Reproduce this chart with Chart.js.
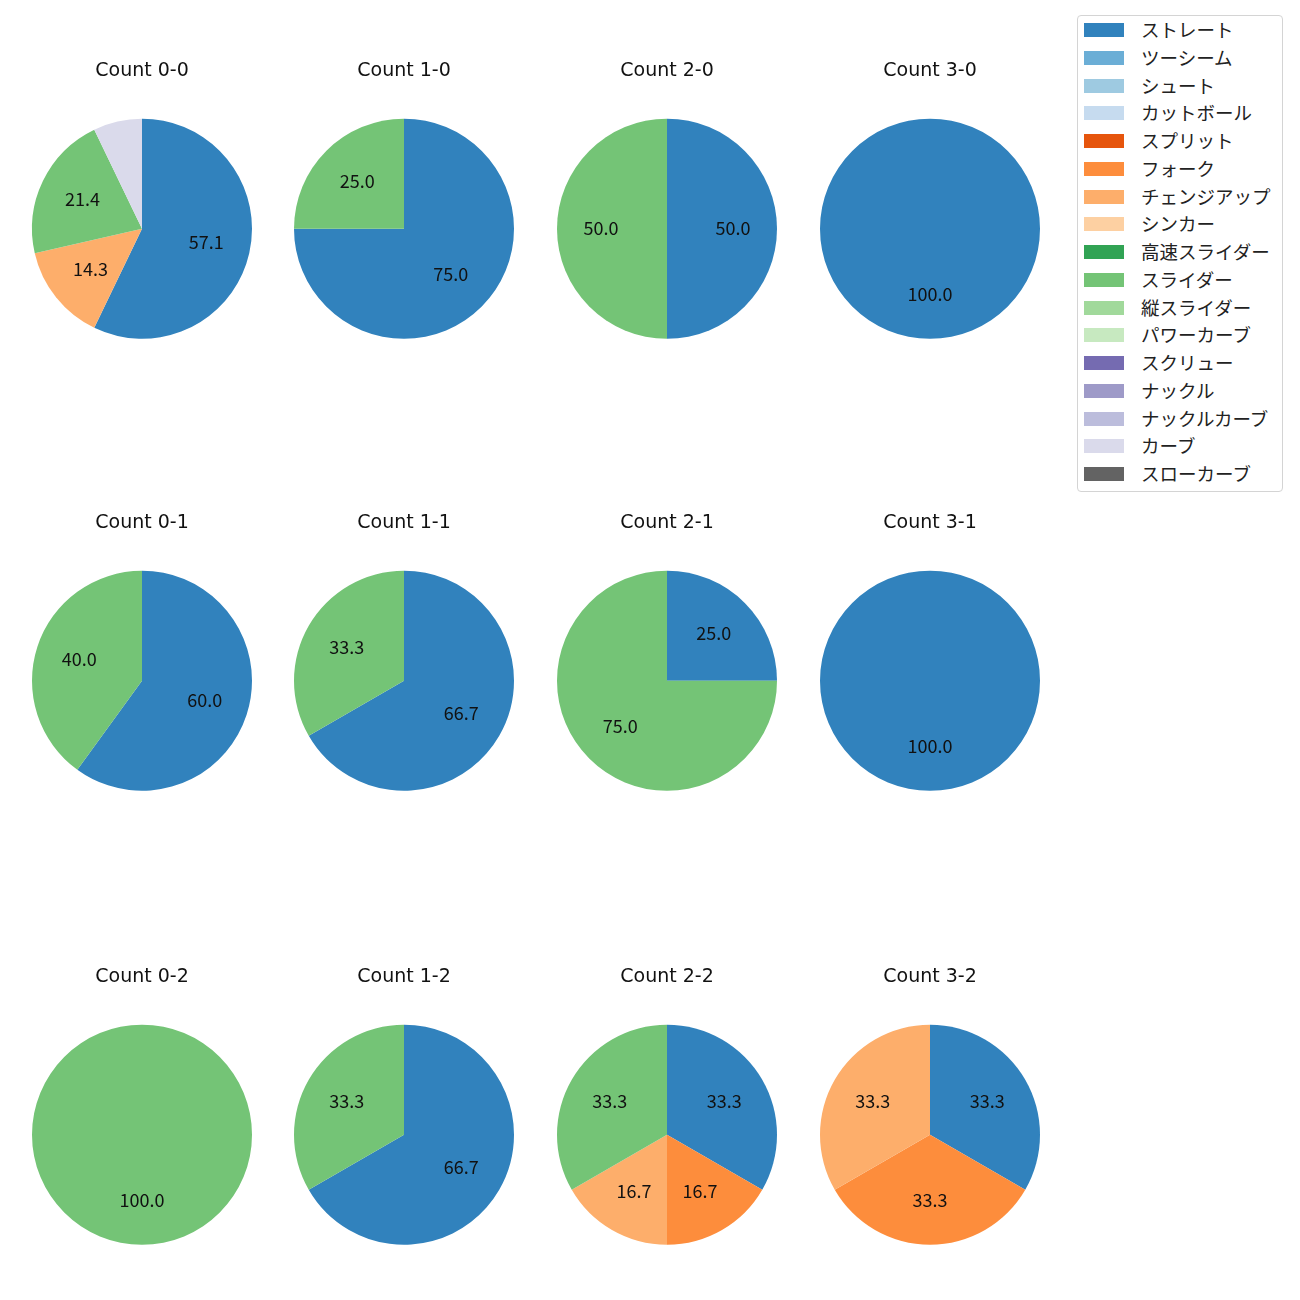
<!DOCTYPE html>
<html>
<head>
<meta charset="utf-8">
<script src="https://cdn.jsdelivr.net/npm/chart.js@4.4.0/dist/chart.umd.min.js"></script>
<style>
  body { margin: 0; background: #fff; }
  #wrap { position: relative; width: 1300px; height: 1300px; }
  .pie { position: absolute; }
  #legend {
    position: absolute; left: 1077px; top: 15px; width: 204px; height: 475px;
    border: 1px solid #d4d4d4; border-radius: 4px; background: #fff;
    font-family: "Noto Sans CJK JP", sans-serif; font-size: 18.5px; color: #222;
  }
  .item { position: absolute; left: 0; height: 20px; }
  .sw { position: absolute; left: 6px; top: 3px; width: 40px; height: 14px; }
  .lab { position: absolute; left: 63px; top: -4px; white-space: nowrap; line-height: 26px; }
</style>
</head>
<body>
<div id="wrap"><div id="legend"></div></div>
<script>
// pitch types and tab20c colours, in legend order
const pitchTypes = ['ストレート', 'ツーシーム', 'シュート', 'カットボール', 'スプリット', 'フォーク',
  'チェンジアップ', 'シンカー', '高速スライダー', 'スライダー', '縦スライダー', 'パワーカーブ',
  'スクリュー', 'ナックル', 'ナックルカーブ', 'カーブ', 'スローカーブ'];
const pitchColors = ['#3182bd', '#6baed6', '#9ecae1', '#c6dbef', '#e6550d', '#fd8d3c',
  '#fdae6b', '#fdd0a2', '#31a354', '#74c476', '#a1d99b', '#c7e9c0',
  '#756bb1', '#9e9ac8', '#bcbddc', '#dadaeb', '#636363'];

const countLabels = ['0-0', '1-0', '2-0', '3-0', '0-1', '1-1', '2-1', '3-1', '0-2', '1-2', '2-2', '3-2'];

// number of pitches per type (same order as pitchTypes)
const count00 = [8, 0, 0, 0, 0, 0, 2, 0, 0, 3, 0, 0, 0, 0, 0, 1, 0];
const count10 = [3, 0, 0, 0, 0, 0, 0, 0, 0, 1, 0, 0, 0, 0, 0, 0, 0];
const count20 = [1, 0, 0, 0, 0, 0, 0, 0, 0, 1, 0, 0, 0, 0, 0, 0, 0];
const count30 = [1, 0, 0, 0, 0, 0, 0, 0, 0, 0, 0, 0, 0, 0, 0, 0, 0];
const count01 = [3, 0, 0, 0, 0, 0, 0, 0, 0, 2, 0, 0, 0, 0, 0, 0, 0];
const count11 = [2, 0, 0, 0, 0, 0, 0, 0, 0, 1, 0, 0, 0, 0, 0, 0, 0];
const count21 = [1, 0, 0, 0, 0, 0, 0, 0, 0, 3, 0, 0, 0, 0, 0, 0, 0];
const count31 = [1, 0, 0, 0, 0, 0, 0, 0, 0, 0, 0, 0, 0, 0, 0, 0, 0];
const count02 = [0, 0, 0, 0, 0, 0, 0, 0, 0, 1, 0, 0, 0, 0, 0, 0, 0];
const count12 = [2, 0, 0, 0, 0, 0, 0, 0, 0, 1, 0, 0, 0, 0, 0, 0, 0];
const count22 = [2, 0, 0, 0, 0, 1, 1, 0, 0, 2, 0, 0, 0, 0, 0, 0, 0];
const count32 = [1, 0, 0, 0, 0, 1, 1, 0, 0, 0, 0, 0, 0, 0, 0, 0, 0];
const countData = [count00, count10, count20, count30, count01, count11, count21, count31,
  count02, count12, count22, count32];

// layout of the 4x3 grid (pie centres)
const colX = [142, 404, 667, 930];
const rowY = [229, 681, 1135];

// percentage labels at 0.6 of the radius, small slices left unlabelled
const sliceLabels = {
  id: 'sliceLabels',
  afterDatasetsDraw(chart) {
    const ctx = chart.ctx;
    const vals = chart.data.datasets[0].data;
    const total = vals.reduce((a, b) => a + b, 0);
    ctx.save();
    ctx.font = '18px "Noto Sans CJK JP", sans-serif';
    ctx.fillStyle = '#111';
    ctx.textAlign = 'center';
    ctx.textBaseline = 'middle';
    chart.getDatasetMeta(0).data.forEach((arc, i) => {
      if (!vals[i]) return;
      const pct = vals[i] / total * 100;
      if (pct < 10) return;
      const p = arc.getProps(['x', 'y', 'startAngle', 'endAngle', 'outerRadius'], true);
      const mid = (p.startAngle + p.endAngle) / 2;
      const r = p.outerRadius * 0.6;
      ctx.fillText(pct.toFixed(1), p.x + Math.cos(mid) * r, p.y + Math.sin(mid) * r - 1);
    });
    ctx.restore();
  }
};

const wrap = document.getElementById('wrap');
countData.forEach((vals, k) => {
  const cx = colX[k % 4], cy = rowY[Math.floor(k / 4)];
  const c = document.createElement('canvas');
  c.className = 'pie';
  c.width = 240; c.height = 290;
  c.style.width = '240px'; c.style.height = '290px';
  c.style.left = (cx - 120) + 'px';
  c.style.top = Math.round(cy - 169.75) + 'px';
  wrap.appendChild(c);

  new Chart(c.getContext('2d'), {
    type: 'pie',
    data: {
      labels: pitchTypes,
      datasets: [{
        data: vals,
        backgroundColor: pitchColors,
        borderWidth: 0
      }]
    },
    options: {
      responsive: false,
      animation: false,
      events: [],
      layout: { padding: { top: 0, left: 10, right: 10, bottom: 10 } },
      plugins: {
        legend: { display: false },
        tooltip: { enabled: false },
        title: {
          display: true,
          text: 'Count ' + countLabels[k],
          color: '#111',
          font: { family: 'DejaVu Sans', size: 19, weight: 'normal', lineHeight: 1 },
          padding: { top: 3, bottom: 37.5 }
        }
      }
    },
    plugins: [sliceLabels]
  });
});

// legend box
const legend = document.getElementById('legend');
pitchTypes.forEach((name, i) => {
  const row = document.createElement('div');
  row.className = 'item';
  row.style.top = (4 + i * 27.75) + 'px';
  row.innerHTML = '<div class="sw" style="background:' + pitchColors[i] + '"></div><div class="lab">' + name + '</div>';
  legend.appendChild(row);
});
</script>
</body>
</html>
